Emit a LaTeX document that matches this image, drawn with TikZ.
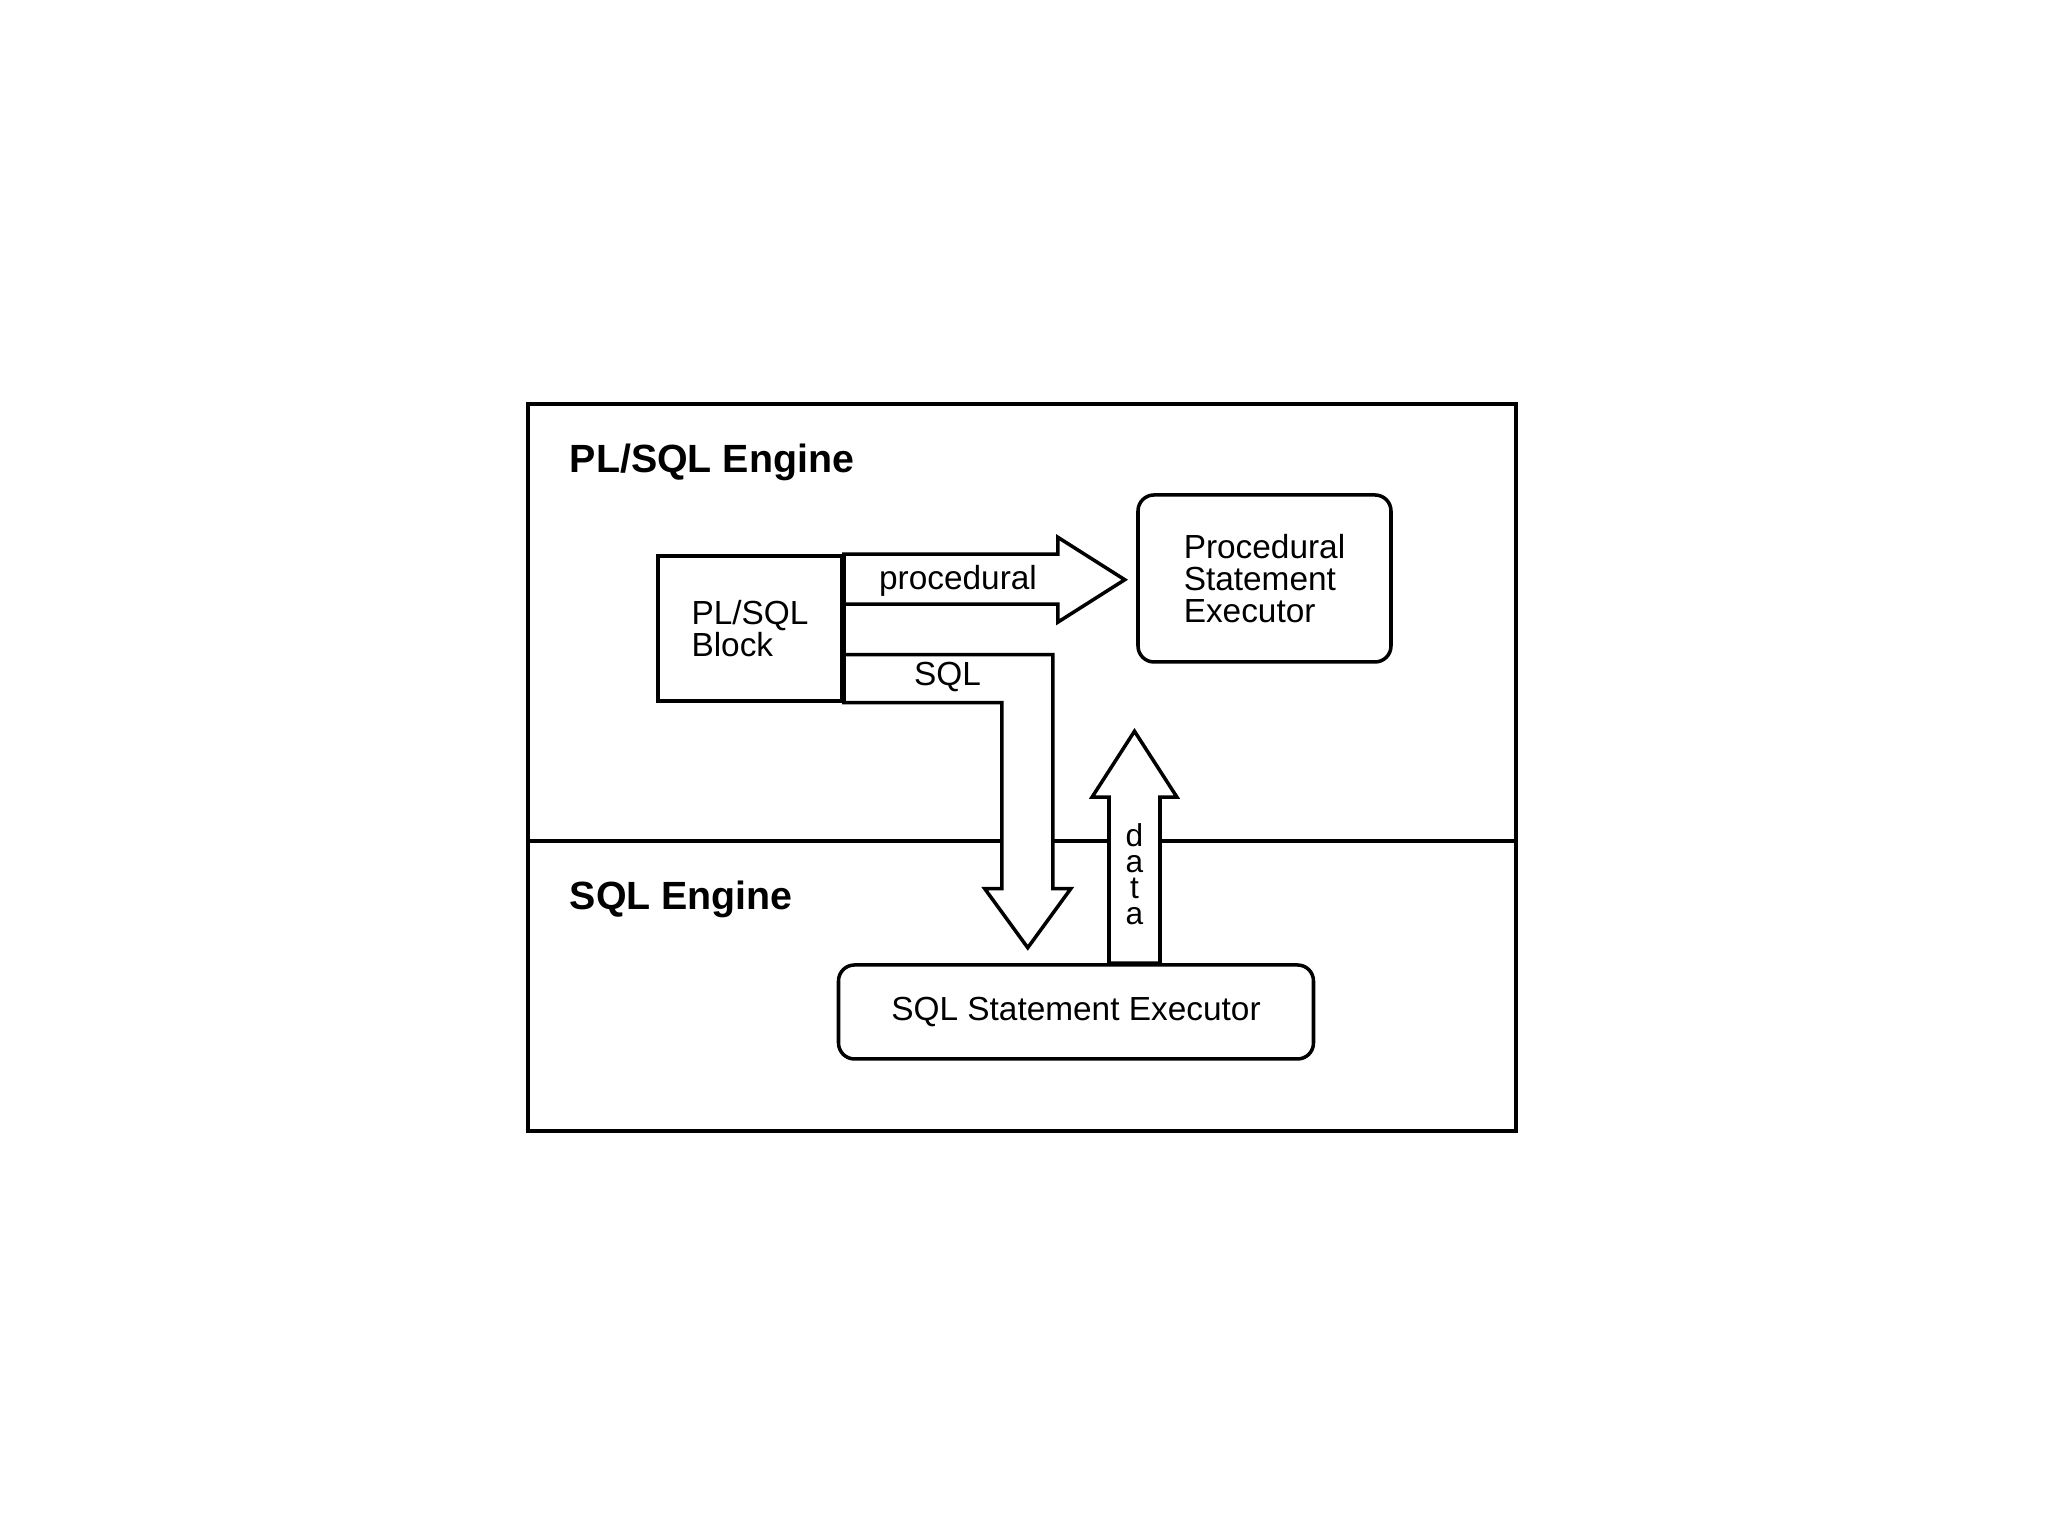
\documentclass[tikz,border=0pt]{standalone}
\usepackage{fontspec}
\setmainfont{Liberation Sans}
\begin{document}
\begin{tikzpicture}[line width=1pt,
    box/.style={draw,fill=white,align=left,font=\fontsize{9.5}{9}\selectfont},
    bigarrow/.style={draw,fill=white,line join=miter},
    engine/.style={anchor=base west,inner sep=0pt,font=\fontsize{11.2}{13}\bfseries\selectfont}]
    \useasboundingbox (0,0) rectangle (20.48,15.36);
    % engines
    \draw (5.28,4.05) rectangle (15.16,11.32);
    \draw (5.26,6.95)--(15.16,6.95);
    \node[engine] (plsqleng) at (5.68,10.63) {PL/SQL Engine};
    \node[engine] (sqleng) at (5.68,6.26) {SQL Engine};
    % boxes
    \node[box,minimum width=1.84cm,minimum height=1.45cm] (block) at (7.50,9.075)
        {PL/SQL\\Block};
    \node[box,rounded corners=0.16cm,minimum width=2.53cm,minimum height=1.67cm] (procexec)
        at (12.645,9.575) {Procedural\\Statement\\Executor};
    \node[box,rounded corners=0.16cm,minimum width=4.75cm,minimum height=0.94cm] (sqlexec)
        at (10.76,5.24) {SQL Statement Executor};
    % block arrows
    \draw[bigarrow] (block.north east) -- ++(2.14,0) -- ++(0,0.17) -- ++(0.67,-0.425)
        -- ++(-0.67,-0.425) -- ++(0,0.18) -- ++(-2.14,0) -- cycle;
    \draw[bigarrow] ([yshift=0.48cm]block.south east) -- ++(2.09,0) -- ++(0,-2.34)
        -- ++(0.18,0) -- ++(-0.43,-0.59) -- ++(-0.43,0.59) -- ++(0.17,0)
        -- ++(0,1.86) -- (block.south east) -- cycle;
    \draw[bigarrow] ([xshift=0.33cm]sqlexec.north) -- ++(0,1.66) -- ++(-0.17,0)
        -- ++(0.425,0.66) -- ++(0.425,-0.66) -- ++(-0.17,0) -- ++(0,-1.66) -- cycle;
    \draw (block.north east) -- (block.south east);
    % arrow labels
    \node[font=\fontsize{9.5}{9}\selectfont] (proclbl) at (9.58,9.55) {procedural};
    \node[font=\fontsize{9.5}{9}\selectfont] (sqllbl) at (9.475,8.59) {SQL};
    \node[align=center,inner sep=0pt,font=\fontsize{9}{7.4}\selectfont] (datalbl)
        at (11.345,6.615) {d\\a\\t\\a};
\end{tikzpicture}
\end{document}
